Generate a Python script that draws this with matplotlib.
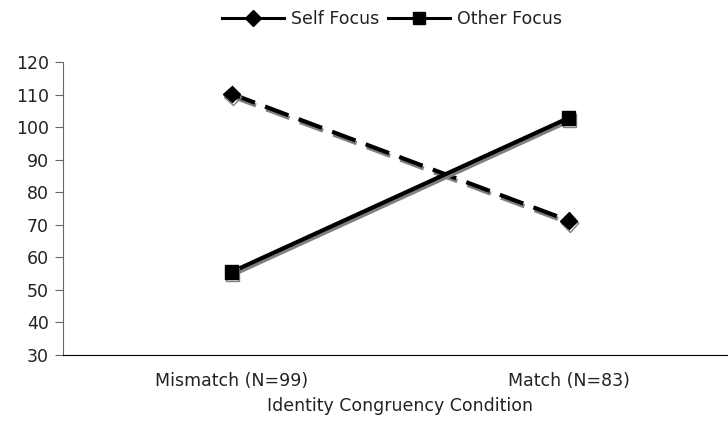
import matplotlib.pyplot as plt
import matplotlib.patheffects as pe
from matplotlib.lines import Line2D

categories = ['Mismatch (N=99)', 'Match (N=83)']
self_focus = [110.2, 71.3]
other_focus = [55.5, 102.8]
y_ticks = [30, 40, 50, 60, 70, 80, 90, 100, 110, 120]

plt.rcParams['font.family'] = 'DejaVu Sans'
fs = 12.5

fig = plt.figure(figsize=(7.28, 4.28), dpi=100)
ax = fig.add_axes([63 / 728, 1 - 355 / 428, 674 / 728, (355 - 62) / 428])

shadow = [pe.SimpleLineShadow(offset=(0.8, -2), shadow_color='#808080', alpha=1.0), pe.Normal()]
x = range(len(categories))

ax.plot(x, self_focus, color='black', lw=3, dashes=(6, 2.6), marker='D', ms=8.5,
        path_effects=shadow)
ax.plot(x, other_focus, color='black', lw=3, marker='s', ms=9.5,
        path_effects=shadow)

ax.set_xlim(-0.5, 1.5)
ax.set_ylim(30, 120)
ax.set_yticks(y_ticks)
ax.set_xticks(list(x))
ax.set_xticklabels(categories, fontsize=fs, color='#222222')
ax.tick_params(axis='x', length=0, pad=12)
ax.tick_params(axis='y', direction='out', length=6, width=0.8, labelsize=fs,
               labelcolor='#222222', color='#666666', pad=4)
for s in ['top', 'right']:
    ax.spines[s].set_visible(False)
ax.spines['left'].set_color('#666666')
ax.spines['bottom'].set_color('black')
ax.set_xlabel('Identity Congruency Condition', fontsize=fs, color='#222222', labelpad=5)

handles = [Line2D([], [], color='black', lw=2.2, marker='D', ms=8),
           Line2D([], [], color='black', lw=2.2, marker='s', ms=9)]
leg = fig.legend(handles, ['Self Focus', 'Other Focus'], loc='center',
                 bbox_to_anchor=(392 / 728, 1 - 19 / 428), ncol=2, frameon=False,
                 fontsize=fs, handlelength=3.6, handletextpad=0.4, columnspacing=0.5)
for t in leg.get_texts():
    t.set_color('#222222')

fig.savefig('out.png', dpi=100)
